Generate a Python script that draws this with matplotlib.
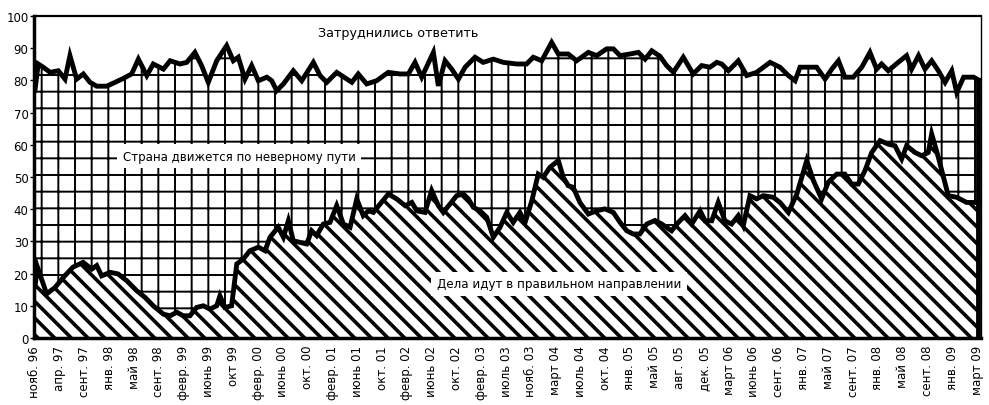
import matplotlib
matplotlib.use("Agg")
import matplotlib.pyplot as plt

plt.rcParams['font.family'] = ['DejaVu Sans']

# x positions are in "tick-label index" units (0 = нояб. 96, 38 = март 09)
tick_labels = ["нояб. 96", "апр. 97", "сент. 97", "янв. 98", "май 98", "сент. 98",
               "февр. 99", "июнь 99", "окт 99", "февр. 00", "июнь 00", "окт. 00",
               "февр. 01", "июнь 01", "окт. 01", "февр. 02", "июнь 02", "окт. 02",
               "февр. 03", "июль 03", "нояб. 03", "март 04", "июль 04", "окт. 04",
               "янв. 05", "май 05", "авг. 05", "дек. 05", "март 06", "июнь 06",
               "сент. 06", "янв. 07", "май 07", "сент. 07", "янв. 08", "май 08",
               "сент. 08", "янв. 09", "март 09"]

# "Дела идут в правильном направлении"
right_x = [0.00, 0.10, 0.47, 0.81, 1.14, 1.53, 1.94, 2.29, 2.49, 2.69, 3.03, 3.35,
           3.70, 4.10, 4.44, 4.77, 5.18, 5.45, 5.72, 5.98, 6.25, 6.52, 6.79, 7.06,
           7.33, 7.46, 7.66, 7.93, 8.14, 8.40, 8.67, 9.01, 9.28, 9.48, 9.81, 10.02,
           10.22, 10.42, 10.69, 10.96, 11.16, 11.36, 11.63, 11.90, 12.17, 12.44, 12.71,
           12.98, 13.24, 13.45, 13.65, 13.92, 14.25, 14.59, 14.93, 15.20, 15.40, 15.73,
           16.00, 16.27, 16.47, 16.74, 17.01, 17.28, 17.48, 17.68, 17.95, 18.22, 18.49,
           18.76, 19.03, 19.29, 19.56, 19.77, 20.04, 20.30, 20.50, 20.77, 21.11, 21.31,
           21.51, 21.71, 21.98, 22.32, 22.66, 22.99, 23.33, 23.60, 23.87, 24.13, 24.40,
           24.68, 25.01, 25.28, 25.68, 25.95, 26.22, 26.49, 26.83, 27.03, 27.30, 27.56,
           27.83, 28.10, 28.37, 28.57, 28.84, 29.11, 29.38, 29.78, 30.05, 30.39, 30.73,
           31.13, 31.40, 31.73, 32.00, 32.34, 32.67, 32.94, 33.21, 33.48, 33.75, 34.09,
           34.42, 34.69, 34.96, 35.16, 35.50, 35.77, 36.03, 36.17, 36.44, 36.84, 37.18,
           37.58, 38.05]
right_vals = [16, 22, 13.7, 15.7, 18.8, 22, 23.5, 21.4, 22.5, 19.3, 20.4, 19.9,
              17.8, 14.7, 12.6, 10, 7.4, 6.9, 8, 6.9, 6.9, 9.5, 10, 9,
              10, 13.1, 9.5, 10, 23, 24.5, 27.1, 28.2, 27.1, 31.3, 34.4, 31.3,
              36.4, 30.2, 29.7, 29.2, 33.3, 31.8, 35.4, 35.9, 41.1, 35.4, 34.4,
              43.2, 38, 39.5, 39, 41.6, 44.7, 43.2, 41.1, 42.1, 39.5, 39,
              45.8, 41.1, 39, 41.6, 44.2, 44.7, 43.2, 40.6, 39.5, 37.5, 31.3,
              34.4, 39, 35.9, 39, 35.9, 42.6, 50.9, 49.9, 53, 55.1, 49.9,
              47.3, 46.8, 42.1, 38.5, 39.5, 40.1, 39, 35.9, 33.3, 32.3, 32.3,
              35.4, 36.5, 35.4, 33.3, 35.9, 38, 35.4, 39.5, 36.4, 36.4, 42.1,
              36.4, 35.4, 38, 34.9, 44.2, 43.2, 44.2, 43.7, 42.1, 39, 44.7,
              55.1, 48.9, 43.2, 48.4, 50.9, 50.9, 47.8, 47.8, 52, 57.6, 61.3,
              60.2, 59.7, 55.6, 59.7, 57.6, 56.6, 57.6, 63.4, 56.1, 44.2, 43.7,
              42.1, 42.1]

# upper boundary = "правильно" + "неверно" (100 - "затруднились ответить")
top_x = [0.00, 0.13, 0.33, 0.61, 0.94, 1.21, 1.41, 1.68, 1.95, 2.22, 2.49, 2.89,
         3.23, 3.56, 3.90, 4.17, 4.51, 4.77, 5.18, 5.45, 5.85, 6.12, 6.45, 6.72,
         6.99, 7.33, 7.73, 8.00, 8.20, 8.47, 8.74, 9.01, 9.35, 9.55, 9.75, 10.02,
         10.42, 10.76, 11.23, 11.50, 11.77, 12.17, 12.78, 13.04, 13.38, 13.78, 14.25,
         14.72, 15.06, 15.33, 15.60, 16.07, 16.27, 16.54, 16.81, 17.08, 17.35, 17.75,
         18.08, 18.49, 18.89, 19.43, 19.83, 20.10, 20.44, 20.84, 21.11, 21.51, 21.85,
         22.32, 22.66, 23.06, 23.33, 23.60, 24.00, 24.34, 24.61, 24.88, 25.21, 25.48,
         25.75, 26.15, 26.55, 26.89, 27.23, 27.50, 27.70, 27.97, 28.37, 28.71, 29.11,
         29.65, 30.05, 30.39, 30.66, 30.86, 31.53, 31.87, 32.14, 32.41, 32.67, 33.01,
         33.35, 33.68, 33.95, 34.15, 34.42, 34.82, 35.16, 35.36, 35.64, 35.90, 36.17,
         36.44, 36.71, 36.98, 37.18, 37.46, 37.86, 38.05]
top_vals = [77, 85.1, 84.1, 82.5, 83, 80.4, 87.7, 80.4, 82, 79.4, 78.2, 78.2,
            79.4, 80.6, 82, 86.6, 81.5, 85.1, 83.5, 86.1, 85.1, 85.6, 88.7, 84.6,
            79.4, 86.1, 90.8, 86.1, 87.2, 80.4, 84.6, 79.9, 81, 79.9, 76.8, 78.9,
            83, 79.9, 85.6, 81.5, 79.4, 82.5, 79.4, 82, 78.9, 79.9, 82.5,
            82, 82, 85.6, 81, 88.7, 78.3, 86.1, 83.5, 80.4, 84.1, 87.2,
            85.6, 86.6, 85.6, 85.1, 85.1, 87.2, 86.1, 91.8, 88.2, 88.2, 86.1,
            88.7, 87.7, 89.8, 89.8, 87.7, 88.2, 88.7, 86.6, 89.2, 87.5, 84.6,
            82.5, 87.2, 82, 84.6, 84.1, 85.6, 85.1, 83, 86.1, 81.5, 82.5,
            85.6, 84.1, 81.5, 79.9, 84.1, 84.1, 80.4, 83.5, 86.1, 81, 81,
            84.1, 88.7, 83.5, 85.1, 83, 85.6, 87.7, 83.5, 87.7, 83.5, 86.1,
            83, 79.4, 83, 76.3, 81, 81, 80.2]

label_top = "Затруднились ответить"
label_mid = "Страна движется по неверному пути"
label_low = "Дела идут в правильном направлении"

fig = plt.figure(figsize=(9.89, 4.06), dpi=100)
ax = fig.add_axes([34/989, 67/406, 947/989, 322/406])

# grid-hatched region (below upper boundary)
plt.rcParams['hatch.linewidth'] = 1.4
c1 = ax.fill_between(top_x, 0, top_vals, facecolor='white', edgecolor='black',
                     hatch='+', linewidth=0, zorder=1)
if hasattr(c1, 'set_hatch_linewidth'):
    c1.set_hatch_linewidth(1.4)

# diagonal-hatched region ("правильно")
plt.rcParams['hatch.linewidth'] = 2.6
c2 = ax.fill_between(right_x, 0, right_vals, facecolor='white', edgecolor='black',
                     hatch='\\\\', linewidth=0, zorder=2)
if hasattr(c2, 'set_hatch_linewidth'):
    c2.set_hatch_linewidth(2.6)

ax.plot(top_x, top_vals, color='black', lw=3.5, solid_joinstyle='miter', zorder=3)
ax.plot(right_x, right_vals, color='black', lw=3.5, solid_joinstyle='miter', zorder=3)
ax.plot([top_x[-1], top_x[-1]], [0, top_vals[-1]], color='black', lw=3.5, zorder=3)

ax.text(11.4, 95, label_top, fontsize=9.2, ha='left', va='center', zorder=5)
ax.text(3.55, 56.5, label_mid, fontsize=8.5, ha='left', va='center', zorder=5,
        bbox=dict(facecolor='white', edgecolor='none', pad=4))
ax.text(16.2, 16.8, label_low, fontsize=8.6, ha='left', va='center', zorder=5,
        bbox=dict(facecolor='white', edgecolor='none', pad=4))

ax.set_xlim(-0.04, 38.16)
ax.set_ylim(0, 100)
ax.set_yticks(range(0, 101, 10))
ax.set_xticks(range(len(tick_labels)))
ax.set_xticklabels(tick_labels, rotation=90, fontsize=8.5, va='top', ha='center')
ax.tick_params(axis='x', length=0, pad=5)
ax.tick_params(axis='y', length=3, width=1, pad=1, labelsize=8.5)

ax.spines['left'].set_linewidth(2.5)
ax.spines['bottom'].set_linewidth(2.5)
ax.spines['top'].set_linewidth(1.6)
ax.spines['right'].set_linewidth(1.0)

fig.savefig("out.png", dpi=100)
